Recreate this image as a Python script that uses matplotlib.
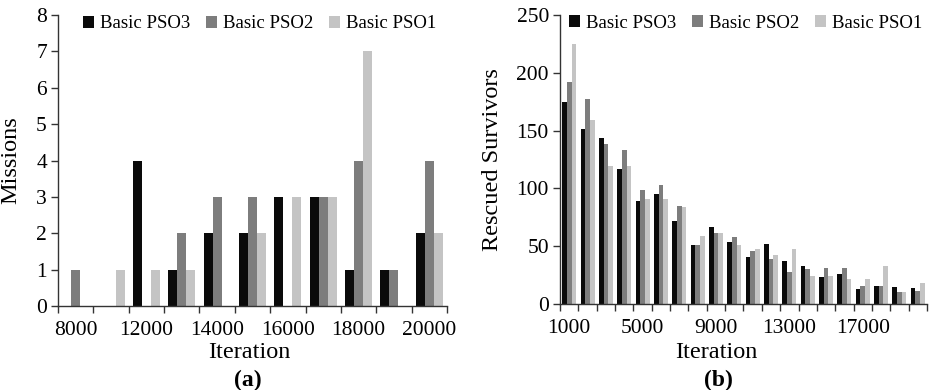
import numpy as np
import matplotlib
matplotlib.use("Agg")
import matplotlib.pyplot as plt

plt.rcParams['font.family'] = ['Liberation Serif', 'DejaVu Serif']

# ---- (a) missions per iteration budget ----
mission_iters = ['8000', '10000', '12000', '13000', '14000', '15000',
                 '16000', '17000', '18000', '19000', '20000']
missions_pso3 = [0, 0, 4, 1, 2, 2, 3, 3, 1, 1, 2]
missions_pso2 = [1, 0, 0, 2, 3, 3, 0, 3, 4, 1, 4]
missions_pso1 = [0, 1, 1, 1, 0, 2, 3, 3, 7, 0, 2]

# ---- (b) rescued survivors per iteration ----
rescue_iters = ['1000', '2000', '3000', '4000', '5000', '6000', '7000',
                '8000', '9000', '10000', '11000', '12000', '13000', '14000',
                '15000', '16000', '17000', '18000', '19000', '20000']
rescued_pso3 = [175, 151, 144, 117, 89, 95, 72, 51, 67, 54,
                41, 52, 37, 33, 23, 26, 13, 16, 15, 14]
rescued_pso2 = [192, 177, 138, 133, 99, 103, 85, 51, 61, 58,
                46, 39, 28, 30, 31, 31, 16, 16, 10, 11]
rescued_pso1 = [225, 159, 119, 119, 91, 91, 84, 59, 61, 51,
                48, 42, 48, 24, 24, 22, 22, 33, 10, 18]

series_names = ['Basic PSO3', 'Basic PSO2', 'Basic PSO1']
series_colors = ['#0a0a0a', '#7d7d7d', '#c4c4c4']

fig = plt.figure(figsize=(9.31, 3.90), dpi=100)
ax_a = fig.add_axes([58 / 931, 1 - 306 / 390, (447 - 58) / 931, (306 - 15) / 390])
ax_b = fig.add_axes([560 / 931, 1 - 304 / 390, (927 - 560) / 931, (304 - 15) / 390])

BAR_W = 0.254
TICK_FS = 15.5
LABEL_FS = 17.5
AXIS_COLOR = '#333333'


def grouped_bars(ax, cats, series, label_every, ymax, ystep, ylabel):
    n = len(cats)
    x = np.arange(n)
    for k, (vals, name, col) in enumerate(zip(series, series_names, series_colors)):
        ax.bar(x + (k - 1) * BAR_W, vals, width=BAR_W, color=col,
               edgecolor='none', label=name, zorder=2)
    ax.set_xlim(-0.5, n - 0.5)
    ax.set_ylim(0, ymax)
    # category boundaries carry the tick marks; labels sit at group centres
    ax.set_xticks(np.arange(n + 1) - 0.5, minor=True)
    ax.set_xticks(x[::label_every])
    ax.set_xticklabels(cats[::label_every])
    ax.tick_params(axis='x', which='major', length=0, labelsize=TICK_FS, pad=11)
    ax.tick_params(axis='x', which='minor', length=5, width=1, color=AXIS_COLOR,
                   direction='out')
    ax.set_yticks(np.arange(0, ymax + ystep / 2, ystep))
    ax.tick_params(axis='y', length=5, width=1, color=AXIS_COLOR,
                   labelsize=TICK_FS, pad=3)
    for side in ('top', 'right'):
        ax.spines[side].set_visible(False)
    for side in ('left', 'bottom'):
        ax.spines[side].set_color(AXIS_COLOR)
        ax.spines[side].set_linewidth(1)
    ax.set_ylabel(ylabel, fontsize=LABEL_FS)
    ax.set_xlabel('Iteration', fontsize=LABEL_FS, labelpad=0)


grouped_bars(ax_a, mission_iters, [missions_pso3, missions_pso2, missions_pso1],
             2, 8, 1, 'Missions')
grouped_bars(ax_b, rescue_iters, [rescued_pso3, rescued_pso2, rescued_pso1],
             4, 250, 50, 'Rescued Survivors')

ax_a.yaxis.set_label_coords((21 - 58) / 389, 0.5)
ax_b.yaxis.set_label_coords((503 - 560) / 367, 0.5)
ax_a.xaxis.set_label_coords(0.491, -(342 - 306) / 291)
ax_b.xaxis.set_label_coords(0.425, -(342 - 304) / 289)

legend_kw = dict(ncol=3, frameon=False, fontsize=13.5, handlelength=0.6,
                 handleheight=0.65, handletextpad=0.3, columnspacing=0.85,
                 borderaxespad=0, borderpad=0)
ax_a.legend(loc='center left', bbox_to_anchor=(25 / 389, 1 - 9 / 291), **legend_kw)
ax_b.legend(loc='center left', bbox_to_anchor=(9 / 367, 1 - 8 / 289), **legend_kw)

fig.text(248 / 931, 1 - 380 / 390, '(a)', ha='center', va='center',
         fontsize=17, fontweight='bold')
fig.text(718 / 931, 1 - 380 / 390, '(b)', ha='center', va='center',
         fontsize=17, fontweight='bold')

fig.savefig('out.png', dpi=100)
